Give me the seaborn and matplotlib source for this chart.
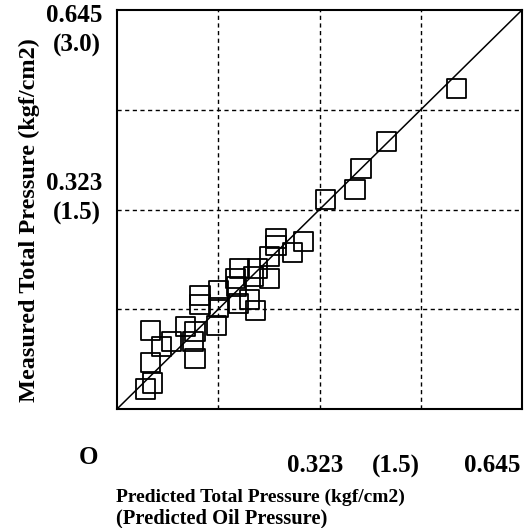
import numpy as np
import pandas as pd
import matplotlib
matplotlib.use('Agg')
import matplotlib.pyplot as plt
import seaborn as sns

# values in kgf/cm2-equivalent units of the chart (full scale 0.645)
full_scale = 0.645
predicted = [3.35, 2.66, 2.41, 2.35, 2.06, 1.84, 1.57, 1.57, 1.73, 1.51, 1.51, 1.39,
             1.35, 1.21, 1.17, 1.18, 1.00, 0.82, 0.82, 1.00, 1.31, 1.37, 1.20, 0.98,
             0.68, 0.77, 0.75, 0.54, 0.44, 0.33, 0.33, 0.77, 0.35, 0.28]
measured = [3.21, 2.68, 2.41, 2.20, 2.10, 1.68, 1.71, 1.64, 1.57, 1.53, 1.31, 1.41,
            1.33, 1.41, 1.31, 1.23, 1.19, 1.14, 1.05, 1.02, 1.10, 0.99, 1.06, 0.84,
            0.83, 0.78, 0.68, 0.68, 0.63, 0.79, 0.47, 0.51, 0.26, 0.20]
predicted = [v * full_scale / 4 for v in predicted]
measured = [v * full_scale / 4 for v in measured]

grid_ticks = [full_scale / 4 * i for i in range(1, 4)]
y_tick_labels = ['0.645', '(3.0)', '0.323', '(1.5)']
x_tick_labels = ['0.323', '(1.5)', '0.645']
origin_label = 'O'
x_title = 'Predicted Total Pressure (kgf/cm2)'
x_subtitle = '(Predicted Oil Pressure)'
y_title = 'Measured Total Pressure (kgf/cm2)'

df = pd.DataFrame({'Predicted': predicted, 'Measured': measured})

sns.set_style('white')
plt.rcParams['font.family'] = ['Liberation Serif', 'DejaVu Serif']
plt.rcParams['font.weight'] = 'bold'

W, H = 529, 528
fig = plt.figure(figsize=(W / 100, H / 100), dpi=100)
ax = fig.add_axes([117 / W, 1 - 409 / H, 405 / W, 399 / H])

sns.scatterplot(data=df, x='Predicted', y='Measured', marker='s', s=190,
                facecolor='none', edgecolor='black', linewidth=1.3, ax=ax, zorder=3)
ax.plot([0, full_scale], [0, full_scale], color='black', lw=1.1, zorder=2)

ax.set_xlim(0, full_scale)
ax.set_ylim(0, full_scale)
ax.set_xticks(grid_ticks)
ax.set_yticks(grid_ticks)
ax.set_xticklabels([])
ax.set_yticklabels([])
ax.tick_params(direction='in', length=9, width=1.4, colors='black')
ax.grid(True, color='black', linestyle=(0, (3, 2.5)), linewidth=1.0)
ax.set_xlabel('')
ax.set_ylabel('')
for sp in ax.spines.values():
    sp.set_color('black')
    sp.set_linewidth(1.5)


def ftext(px, py, s, **kw):
    fig.text(px / W, 1 - py / H, s, fontweight='bold', color='black', **kw)


# y tick labels
ftext(74, 16, y_tick_labels[0], ha='center', va='center', fontsize=18)
ftext(77, 45, y_tick_labels[1], ha='center', va='center', fontsize=18)
ftext(74, 184, y_tick_labels[2], ha='center', va='center', fontsize=18)
ftext(77, 213, y_tick_labels[3], ha='center', va='center', fontsize=18)
# origin and x tick labels
ftext(88, 457, origin_label, ha='center', va='center', fontsize=18)
ftext(315, 466, x_tick_labels[0], ha='center', va='center', fontsize=18)
ftext(396, 466, x_tick_labels[1], ha='center', va='center', fontsize=18)
ftext(492, 466, x_tick_labels[2], ha='center', va='center', fontsize=18)
# axis titles
ftext(116, 497, x_title, ha='left', va='center', fontsize=14)
ftext(116, 518, x_subtitle, ha='left', va='center', fontsize=14.8)
ftext(29, 220, y_title, ha='center', va='center', fontsize=17.5, rotation=90)

fig.savefig('out.png', dpi=100)
